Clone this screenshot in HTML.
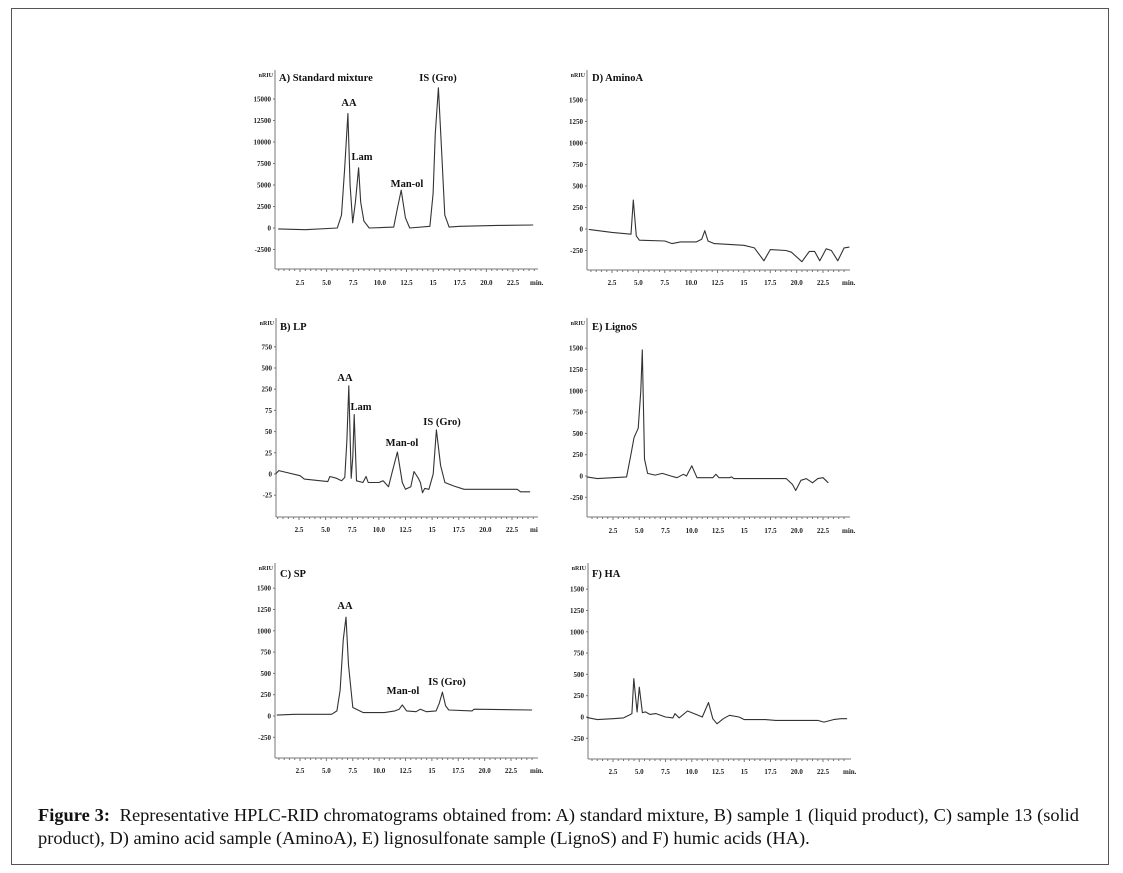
<!DOCTYPE html>
<html><head><meta charset="utf-8"><style>
html,body{margin:0;padding:0;background:#fff;width:1123px;height:873px;overflow:hidden}
#frame{position:absolute;left:11px;top:8px;width:1098px;height:857px;border:1px solid #555;box-sizing:border-box}
svg{position:absolute;left:0;top:0}
#cap{position:absolute;left:38px;top:804px;width:1041px;font-family:"Liberation Serif",serif;font-size:18.4px;line-height:23px;color:#111}
#cap .l1{text-align:justify;text-align-last:justify}
</style></head><body>
<div id="frame"></div>
<svg id="chart" width="1123" height="873"></svg>
<div id="cap"><div class="l1"><b>Figure 3:</b>&nbsp; Representative HPLC-RID chromatograms obtained from: A) standard mixture, B) sample 1 (liquid product), C) sample 13 (solid</div><div>product), D) amino acid sample (AminoA), E) lignosulfonate sample (LignoS) and F) humic acids (HA).</div></div>
<script>
// ---- data ----
const xTickLabels = ["2.5","5.0","7.5","10.0","12.5","15","17.5","20.0","22.5"];
const xTickValues = [2.5,5,7.5,10,12.5,15,17.5,20,22.5];
const yLabelsA = ["15000","12500","10000","7500","5000","2500","0","-2500"];
const yValuesA = [15000,12500,10000,7500,5000,2500,0,-2500];
const yLabelsB = ["750","500","250","75","50","25","0","-25"];
const yValuesB = [150,125,100,75,50,25,0,-25];
const yLabelsS = ["1500","1250","1000","750","500","250","0","-250"];
const yValuesS = [1500,1250,1000,750,500,250,0,-250];
const timesA = [0.45,3,6,6.4,6.7,7.0,7.2,7.45,7.7,8.0,8.2,8.5,9,11.3,11.6,12.0,12.4,12.8,14.7,15.0,15.2,15.5,15.8,16.1,16.5,17.5,21,24.4];
const valuesA = [-100,-200,0,1500,7000,13300,5000,600,3000,7000,3000,800,0,100,2000,4400,1200,0,200,4000,11000,16300,9000,1500,100,200,300,350];
const timesB = [0.3,0.6,2.6,3.0,5.2,5.4,6.0,6.5,6.8,7.0,7.18,7.4,7.55,7.68,7.9,8.5,8.8,9.0,10,10.4,10.9,11.2,11.74,12.2,12.5,13.0,13.3,13.7,13.9,14.1,14.3,14.7,15.1,15.4,15.8,16.2,17,18,23,23.3,24.2];
const valuesB = [0,4,-2,-6,-9,-3,-5,-8,-4,40,104,-5,20,70,-8,-10,-3,-10,-10,-8,-15,0,26,-10,-18,-15,3,-5,-10,-22,-17,-18,0,52,10,-10,-14,-18,-18,-21,-21];
const timesC = [0.3,2,5.5,6.0,6.3,6.6,6.86,7.1,7.5,8.5,10.5,11.5,11.9,12.2,12.6,13.5,13.9,14.5,15.4,15.7,16.0,16.3,16.6,18.8,19.0,24.5];
const valuesC = [10,20,20,60,300,900,1160,600,100,40,40,60,80,130,60,50,80,50,60,150,280,120,70,60,80,70];
const timesD = [0.3,2.5,4.3,4.52,4.8,5.1,7.5,8.2,9,10.5,11.0,11.3,11.6,12.2,15,16,16.9,17.5,19,19.5,20.5,21.2,21.7,22.2,22.8,23.3,23.9,24.5,25];
const valuesD = [-5,-40,-60,337,-80,-130,-140,-170,-150,-150,-120,-20,-140,-170,-190,-220,-370,-240,-250,-270,-380,-260,-260,-370,-230,-250,-370,-220,-210];
const timesE = [0,1,2.5,3.8,4.2,4.5,4.9,5.15,5.29,5.5,5.8,6.5,7.2,8,8.6,9.2,9.5,10,10.5,12.0,12.3,12.6,13.6,13.8,14,19,19.6,19.9,20.4,20.9,21.5,22,22.5,23.0];
const valuesE = [-10,-30,-20,-10,250,450,560,1000,1480,200,30,10,30,0,-20,20,0,120,-20,-20,20,-20,-20,-10,-30,-30,-100,-170,-50,-30,-80,-30,-20,-80];
const timesF = [0,1,2.5,3.5,4.0,4.3,4.48,4.8,5.0,5.3,5.6,6,6.6,7.5,8.2,8.4,8.8,9.6,10.4,11.0,11.6,12.0,12.4,13.0,13.6,14.5,15,17,18,22,22.6,23.5,24.2,24.8];
const valuesF = [-5,-30,-20,-10,20,40,450,60,350,50,60,30,40,0,-10,40,-10,70,30,0,170,-20,-80,-20,20,0,-30,-30,-40,-40,-60,-30,-20,-20];

// ---- panel geometry (layout only) ----
const panels = [
 {id:"a",title:"A) Standard mixture",ax:275,x25:300,x225:513,y0:228,tickPx:21.5,tickStep:2500,top:70,bottom:269,right:538,labY:285,end:"min.",yl:yLabelsA,yv:yValuesA,t:timesA,v:valuesA,tx:279,ty:81,
  peaks:[["AA",349,106],["Lam",362,160],["Man-ol",407,187],["IS (Gro)",438,81]]},
 {id:"b",title:"B) LP",ax:276,x25:299,x225:512,y0:474,tickPx:21.2,tickStep:25,top:318,bottom:517,right:538,labY:532,end:"mi",yl:yLabelsB,yv:yValuesB,t:timesB,v:valuesB,tx:280,ty:330,
  peaks:[["AA",345,381],["Lam",361,410],["Man-ol",402,446],["IS (Gro)",442,425]]},
 {id:"c",title:"C) SP",ax:275,x25:300,x225:511,y0:716,tickPx:21.3,tickStep:250,top:563,bottom:758,right:538,labY:773,end:"min.",yl:yLabelsS,yv:yValuesS,t:timesC,v:valuesC,tx:280,ty:577,
  peaks:[["AA",345,609],["Man-ol",403,694],["IS (Gro)",447,685]]},
 {id:"d",title:"D) AminoA",ax:587,x25:612,x225:823,y0:229,tickPx:21.5,tickStep:250,top:70,bottom:270,right:850,labY:285,end:"min.",yl:yLabelsS,yv:yValuesS,t:timesD,v:valuesD,tx:592,ty:81,peaks:[]},
 {id:"e",title:"E) LignoS",ax:587,x25:613,x225:823,y0:476,tickPx:21.3,tickStep:250,top:318,bottom:517,right:850,labY:533,end:"min.",yl:yLabelsS,yv:yValuesS,t:timesE,v:valuesE,tx:592,ty:330,peaks:[]},
 {id:"f",title:"F) HA",ax:588,x25:613,x225:823,y0:717,tickPx:21.3,tickStep:250,top:563,bottom:759,right:851,labY:774,end:"min.",yl:yLabelsS,yv:yValuesS,t:timesF,v:valuesF,tx:592,ty:577,peaks:[]}
];
const NS="http://www.w3.org/2000/svg";
const svg=document.getElementById('chart');
function mk(tag,attrs,parent){const e=document.createElementNS(NS,tag);for(const k in attrs)e.setAttribute(k,attrs[k]);(parent||svg).appendChild(e);return e;}
const F='"Liberation Serif",serif';
panels.forEach(p=>{
  const g=mk('g',{});
  
  
  const sx=t=>p.x25+(t-2.5)*(p.x225-p.x25)/20;
  const sy=v=>p.y0-v*p.tickPx/p.tickStep;
  const ya=mk('line',{x1:p.ax,y1:p.top,x2:p.ax,y2:p.bottom,stroke:'#777','stroke-width':1},g);
  
  
  const xa=mk('line',{x1:p.ax,y1:p.bottom,x2:p.right,y2:p.bottom,stroke:'#777','stroke-width':1},g);
  
  
  for(let t=0.5;sx(t)<p.right-2;t+=0.5){
    mk('line',{x1:sx(t),y1:p.bottom,x2:sx(t),y2:p.bottom+(t%2.5===0?3:2),stroke:'#777'},g);
  }
  xTickLabels.forEach((l,i)=>{
    const tx=mk('text',{x:sx(xTickValues[i]),y:p.labY,'font-family':F,'font-size':7,'font-weight':'bold','text-anchor':'middle',fill:'#222'},g);
    tx.textContent=l;
    
    
  });
  const en=mk('text',{x:p.right-8,y:p.labY,'font-family':F,'font-size':7,'font-weight':'bold',fill:'#222'},g);
  en.textContent=p.end;
  
  
  p.yl.forEach((l,i)=>{
    const y=sy(p.yv[i]);
    mk('line',{x1:p.ax-2,y1:y,x2:p.ax,y2:y,stroke:'#777'},g);
    const tx=mk('text',{x:p.ax-4,y:y+2.5,'font-family':F,'font-size':7,'font-weight':'bold','text-anchor':'end',fill:'#222'},g);
    tx.textContent=l;
    
    
  });
  const un=mk('text',{x:p.ax-2,y:p.top+7,'font-family':F,'font-size':6,'font-weight':'bold','text-anchor':'end',fill:'#222'},g);
  un.textContent='nRIU';
  
  
  const ti=mk('text',{x:p.tx,y:p.ty,'font-family':F,'font-size':10.5,'font-weight':'bold',fill:'#111'},g);
  ti.textContent=p.title;
  
  
  const d=p.t.map((t,i)=>(i?'L':'M')+sx(t).toFixed(1)+' '+sy(p.v[i]).toFixed(1)).join(' ');
  const path=mk('path',{d:d,fill:'none',stroke:'#333','stroke-width':1.1,'stroke-linejoin':'round'},g);
  
  
  p.peaks.forEach(pk=>{
    const tx=mk('text',{x:pk[1],y:pk[2],'font-family':F,'font-size':10.5,'font-weight':'bold','text-anchor':'middle',fill:'#111'},g);
    tx.textContent=pk[0];
    
    
  });
});
</script>
</body></html>
